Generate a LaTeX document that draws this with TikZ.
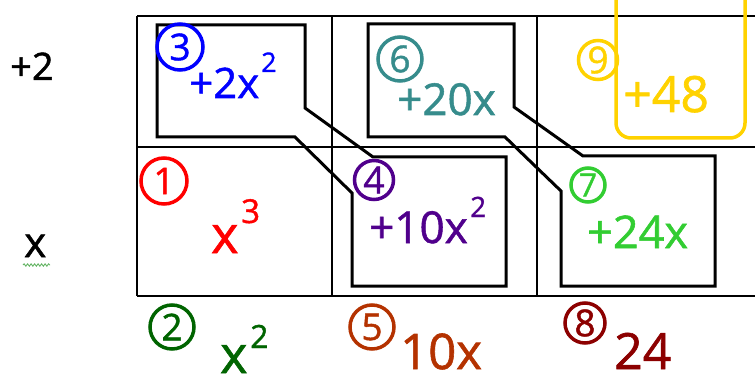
\documentclass[tikz,border=0pt]{standalone}
\usepackage{fontspec}
\setmainfont{Open Sans}[FakeBold=1.2]
\usetikzlibrary{decorations.pathmorphing}
\definecolor{cblue}{RGB}{0,0,255}
\definecolor{cteal}{RGB}{54,140,140}
\definecolor{cyell}{RGB}{255,210,0}
\definecolor{cred}{RGB}{255,0,0}
\definecolor{cdkgreen}{RGB}{0,100,0}
\definecolor{cpurple}{RGB}{80,0,140}
\definecolor{cbrown}{RGB}{180,50,0}
\definecolor{cdkred}{RGB}{140,0,0}
\definecolor{clgreen}{RGB}{50,205,50}
\definecolor{cwavy}{RGB}{100,180,100}
\newcommand{\fsz}[1]{\fontsize{#1}{#1}\selectfont}
\begin{document}
\begin{tikzpicture}[x=1pt,y=-1pt,
  gridline/.style={line width=1.8pt,black},
  outline/.style={line width=3pt,black,line join=miter},
  num/.style={circle,draw,line width=3.5pt,inner sep=0pt,font=\fsz{37}},
  term/.style={anchor=base west,inner sep=0pt},
]
\useasboundingbox (0,0) rectangle (755,377);
\begin{scope}
\clip (0,0) rectangle (755,377);
% grid
\draw[gridline] (137,16) -- (755,16);
\draw[gridline] (137,147) -- (755,147);
\draw[gridline] (137,296) -- (755,296);
\draw[gridline] (137,16) -- (137,296);
\draw[gridline] (332,16) -- (332,296);
\draw[gridline] (537,16) -- (537,296);
% outlines
\draw[outline] (157,25) -- (305,25) -- (305,108) -- (373,157) -- (506,157) -- (506,286) -- (352,286) -- (352,193) -- (295,137) -- (157,137) -- cycle;
\draw[outline] (368,24) -- (514,24) -- (514,107) -- (583,156) -- (715,156) -- (715,286) -- (561,286) -- (561,191) -- (505,137) -- (368,137) -- cycle;
\draw[cyell,line width=3.5pt,rounded corners=15pt] (616,-10) -- (616,138) -- (745,138) -- (745,-10);
\end{scope}
% left labels
\node[term,font=\fsz{38}] (lp2) at (10,80) {+2};
\node[term,font=\fsz{42}] (lx) at (24,257) {x};
\draw[cwavy,line width=0.9pt,decorate,decoration={snake,amplitude=1.2pt,segment length=3.5pt}] (23,265) -- (50,265);
% circled numbers
\node[num,cred,minimum size=46pt] (c1) at (164,181) {1};
\node[num,cdkgreen,minimum size=44pt] (c2) at (172,327) {2};
\node[num,cblue,minimum size=46pt] (c3) at (180,47) {3};
\node[num,cpurple,minimum size=39pt] (c4) at (374,180) {4};
\node[num,cbrown,minimum size=44pt] (c5) at (372,327) {5};
\node[num,cteal,minimum size=44pt] (c6) at (400,59) {6};
\node[num,clgreen,minimum size=34pt,font=\fsz{32}] (c7) at (588,185) {7};
\node[num,cdkred,minimum size=40pt] (c8) at (585,323) {8};
\node[num,cyell,minimum size=39pt] (c9) at (598,60) {9};
% terms
\node[term,cblue,font=\fsz{42}] (t3) at (189,98) {+2x};
\node[term,cblue,font=\fsz{27}] (t3s) at (261,72) {2};
\node[term,cteal,font=\fsz{44}] (t6) at (397,115) {+20x};
\node[term,cyell,font=\fsz{50}] (t9) at (623,112) {+48};
\node[term,cred,font=\fsz{52}] (t1) at (211,253) {x};
\node[term,cred,font=\fsz{33}] (t1s) at (241,223) {3};
\node[term,cpurple,font=\fsz{44}] (t4) at (369,243) {+10x};
\node[term,cpurple,font=\fsz{28}] (t4s) at (470,217) {2};
\node[term,clgreen,font=\fsz{45}] (t7) at (587,248) {+24x};
\node[term,cdkgreen,font=\fsz{52}] (t2) at (220,373) {x};
\node[term,cdkgreen,font=\fsz{32}] (t2s) at (250,348) {2};
\node[term,cbrown,font=\fsz{49}] (t5) at (400,369) {10x};
\node[term,cdkred,font=\fsz{50}] (t8) at (614,369) {24};
\end{tikzpicture}
\end{document}
